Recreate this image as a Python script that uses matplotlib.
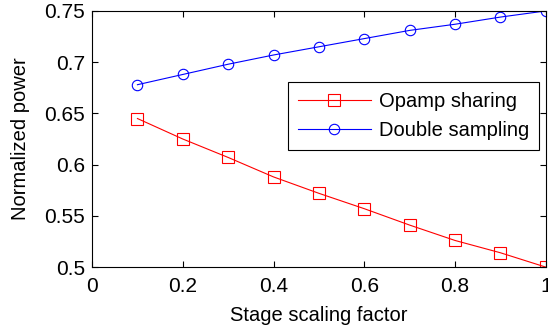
import numpy as np
import matplotlib.pyplot as plt

plt.rcParams['font.family'] = ['Liberation Sans', 'DejaVu Sans']

# values
scale = [0.1, 0.2, 0.3, 0.4, 0.5, 0.6, 0.7, 0.8, 0.9, 1.0]
opamp_sharing = [0.645, 0.625, 0.607, 0.588, 0.572, 0.557, 0.541, 0.526, 0.514, 0.500]
double_sampling = [0.678, 0.688, 0.698, 0.707, 0.715, 0.723, 0.731, 0.737, 0.744, 0.750]

xticks = [0, 0.2, 0.4, 0.6, 0.8, 1]
xticklabels = ['0', '0.2', '0.4', '0.6', '0.8', '1']
yticks = [0.5, 0.55, 0.6, 0.65, 0.7, 0.75]
yticklabels = ['0.5', '0.55', '0.6', '0.65', '0.7', '0.75']

fig = plt.figure(figsize=(5.48, 3.31), dpi=100)
ax = fig.add_axes([0.168, 0.193, 0.828, 0.774])

ax.plot(scale, opamp_sharing, 's-', color='red', linewidth=0.8,
        markersize=8, markerfacecolor='none', markeredgewidth=0.8, label='Opamp sharing')
ax.plot(scale, double_sampling, 'o-', color='blue', linewidth=0.8,
        markersize=7.5, markerfacecolor='none', markeredgewidth=0.8, label='Double sampling')

ax.set_xlim(0, 1)
ax.set_ylim(0.5, 0.75)
ax.set_xticks(xticks)
ax.set_xticklabels(xticklabels)
ax.set_yticks(yticks)
ax.set_yticklabels(yticklabels)
ax.tick_params(direction='in', top=True, right=True, labelsize=15, length=4, width=0.8)
ax.tick_params(axis='x', pad=7)
ax.tick_params(axis='y', pad=5)
for s in ax.spines.values():
    s.set_linewidth(0.8)

ax.set_xlabel("Stage scaling factor", fontsize=14.5, labelpad=7)
ax.set_ylabel("Normalized power", fontsize=14.5, labelpad=10)

leg = ax.legend(loc='upper right', bbox_to_anchor=(0.985, 0.723), borderaxespad=0,
                fontsize=14.5, fancybox=False, edgecolor='black', framealpha=1,
                handlelength=3.6, handletextpad=0.4, borderpad=0.5, labelspacing=0.5)
leg.get_frame().set_linewidth(0.8)

plt.savefig("out.png", dpi=100)
